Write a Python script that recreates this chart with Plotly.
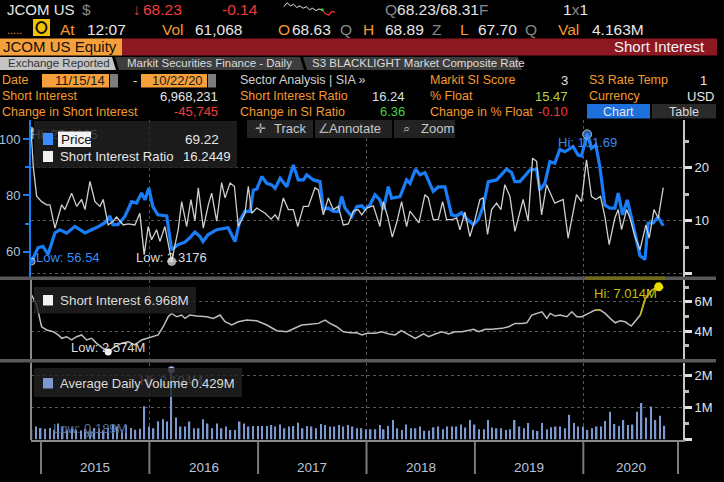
import plotly.graph_objects as go
from datetime import datetime
import calendar

W, H = 724, 482
FONT = "Liberation Sans, Arial, sans-serif"
ORANGE = "#f39a2e"
RED = "#f23b3b"
WHITE = "#e6e6e6"
GRAY = "#8a8a8a"
BLUE = "#1a7df8"

# ---------------- data ----------------
price_t = [2014.914, 2014.972, 2015.018, 2015.065, 2015.099, 2015.129, 2015.175, 2015.237, 2015.313, 2015.359,
           2015.406, 2015.467, 2015.525, 2015.590, 2015.636, 2015.664, 2015.710, 2015.774, 2015.836, 2015.882,
           2015.928, 2015.959, 2015.995, 2016.032, 2016.078, 2016.159, 2016.205, 2016.263, 2016.327, 2016.373,
           2016.419, 2016.465, 2016.493, 2016.539, 2016.619, 2016.724, 2016.788, 2016.834, 2016.880, 2016.926,
           2016.957, 2016.988, 2017.034, 2017.080, 2017.126, 2017.157, 2017.203, 2017.265, 2017.325, 2017.371,
           2017.418, 2017.449, 2017.510, 2017.571, 2017.602, 2017.648, 2017.694, 2017.740, 2017.771, 2017.802,
           2017.864, 2017.910, 2017.956, 2017.986, 2018.032, 2018.078, 2018.124, 2018.155, 2018.201, 2018.232,
           2018.309, 2018.370, 2018.401, 2018.453, 2018.493, 2018.539, 2018.616, 2018.662, 2018.724, 2018.785,
           2018.831, 2018.877, 2018.908, 2018.984, 2019.030, 2019.076, 2019.123, 2019.200, 2019.246, 2019.292,
           2019.338, 2019.369, 2019.415, 2019.507, 2019.569, 2019.599, 2019.645, 2019.691, 2019.737, 2019.783,
           2019.829, 2019.906, 2019.952, 2019.983, 2020.035, 2020.075, 2020.115, 2020.152, 2020.198, 2020.244,
           2020.290, 2020.321, 2020.361, 2020.404, 2020.444, 2020.490, 2020.521, 2020.567, 2020.597, 2020.643,
           2020.689, 2020.735]
price_v = [56.54, 61.4, 61.9, 59.0, 63.1, 66.7, 67.8, 66.6, 69.0, 67.8,
           66.7, 67.8, 68.8, 70.3, 72.7, 69.6, 69.6, 72.5, 77.8, 77.3,
           80.9, 78.4, 82.6, 76.0, 73.1, 72.7, 60.7, 62.5, 63.4, 65.0,
           67.0, 65.4, 63.6, 66.0, 67.8, 68.5, 63.6, 71.3, 74.3, 74.3,
           81.9, 82.2, 86.7, 84.3, 83.7, 82.5, 86.1, 83.1, 90.8, 85.5,
           85.5, 87.3, 85.5, 84.9, 74.9, 75.5, 74.3, 74.3, 79.6, 75.5,
           72.5, 76.0, 76.3, 75.1, 76.6, 80.2, 78.4, 74.9, 83.1, 79.0,
           79.6, 85.5, 84.3, 89.3, 87.3, 88.1, 81.4, 83.0, 83.0, 73.1,
           72.7, 73.9, 72.3, 69.6, 71.3, 76.0, 84.9, 85.5, 87.3, 89.3,
           88.1, 84.9, 84.9, 89.0, 89.3, 81.9, 84.3, 92.0, 91.4, 96.3,
           95.5, 97.3, 94.3, 94.0, 101.69, 96.7, 97.9, 90.2, 76.6, 75.5,
           75.5, 80.8, 73.1, 78.4, 71.9, 63.1, 58.6, 57.2, 70.2, 70.2,
           72.3, 69.22]

sir_t = [2014.908, 2014.929, 2014.960, 2015.006, 2015.053, 2015.083, 2015.129, 2015.159, 2015.191, 2015.221,
         2015.283, 2015.329, 2015.375, 2015.406, 2015.452, 2015.498, 2015.544, 2015.574, 2015.620, 2015.666,
         2015.698, 2015.759, 2015.805, 2015.866, 2015.912, 2015.952, 2015.989, 2016.020, 2016.066, 2016.097,
         2016.143, 2016.205, 2016.265, 2016.297, 2016.343, 2016.382, 2016.419, 2016.450, 2016.496, 2016.542,
         2016.573, 2016.619, 2016.665, 2016.696, 2016.742, 2016.782, 2016.818, 2016.880, 2016.910, 2016.942,
         2016.988, 2017.065, 2017.120, 2017.157, 2017.187, 2017.233, 2017.279, 2017.325, 2017.366, 2017.418,
         2017.464, 2017.525, 2017.556, 2017.602, 2017.648, 2017.694, 2017.740, 2017.786, 2017.832, 2017.878,
         2017.924, 2017.956, 2018.002, 2018.063, 2018.124, 2018.155, 2018.195, 2018.238, 2018.278, 2018.324,
         2018.370, 2018.401, 2018.447, 2018.484, 2018.539, 2018.570, 2018.616, 2018.662, 2018.702, 2018.739,
         2018.785, 2018.831, 2018.862, 2018.908, 2018.954, 2019.000, 2019.046, 2019.076, 2019.117, 2019.154,
         2019.200, 2019.240, 2019.276, 2019.323, 2019.369, 2019.445, 2019.491, 2019.532, 2019.569, 2019.615,
         2019.661, 2019.737, 2019.814, 2019.860, 2019.937, 2019.983, 2020.029, 2020.075, 2020.115, 2020.158,
         2020.198, 2020.238, 2020.290, 2020.321, 2020.352, 2020.398, 2020.429, 2020.475, 2020.521, 2020.576,
         2020.606, 2020.650, 2020.689, 2020.735]
sir_v = [27.1835, 20.2, 14.6, 13.6, 13.0, 13.0, 8.6, 10.8, 13.0, 12.1,
         15.2, 12.7, 14.0, 12.1, 17.4, 13.6, 12.7, 14.0, 9.2, 9.9,
         10.7, 9.2, 9.4, 9.2, 11.4, 3.6, 8.9, 6.4, 8.3, 6.1,
         8.9, 2.3176, 8.3, 13.6, 8.9, 14.0, 10.0, 16.2, 8.6, 13.0,
         15.2, 9.9, 17.2, 14.3, 17.1, 16.5, 8.9, 11.4, 16.5, 11.4,
         12.4, 11.4, 10.3, 11.1, 10.2, 14.3, 12.1, 12.1, 8.9, 12.7,
         12.7, 16.2, 15.8, 11.1, 14.3, 12.1, 12.7, 9.2, 9.4, 11.8,
         12.1, 11.1, 12.4, 12.8, 8.9, 13.6, 10.8, 6.9, 9.6, 13.6,
         8.9, 11.8, 10.5, 9.6, 14.9, 14.3, 10.2, 10.2, 13.6, 10.2,
         10.2, 10.5, 8.3, 11.6, 7.0, 10.2, 14.0, 14.3, 7.4, 12.1,
         13.3, 12.1, 16.8, 14.6, 8.0, 14.0, 9.9, 21.8, 21.2, 11.1,
         16.8, 13.3, 14.0, 6.7, 14.9, 13.6, 21.5, 14.6, 14.0, 14.6,
         10.8, 5.5, 10.5, 12.1, 8.3, 12.1, 10.5, 7.0, 4.5, 9.2,
         6.7, 12.1, 10.5, 16.2449]

si_t = [2014.914, 2014.960, 2015.006, 2015.053, 2015.113, 2015.159, 2015.191, 2015.237, 2015.283, 2015.329,
        2015.375, 2015.421, 2015.467, 2015.513, 2015.574, 2015.620, 2015.682, 2015.744, 2015.805, 2015.866,
        2015.928, 2015.974, 2016.020, 2016.081, 2016.127, 2016.173, 2016.205, 2016.251, 2016.297, 2016.327,
        2016.373, 2016.435, 2016.527, 2016.588, 2016.650, 2016.696, 2016.758, 2016.818, 2016.896, 2016.988,
        2017.080, 2017.172, 2017.265, 2017.341, 2017.403, 2017.479, 2017.556, 2017.618, 2017.664, 2017.725,
        2017.786, 2017.848, 2017.910, 2017.959, 2018.005, 2018.081, 2018.143, 2018.205, 2018.265, 2018.321,
        2018.373, 2018.450, 2018.527, 2018.573, 2018.634, 2018.696, 2018.758, 2018.818, 2018.880, 2018.942,
        2018.988, 2019.034, 2019.095, 2019.157, 2019.249, 2019.311, 2019.371, 2019.433, 2019.479, 2019.525,
        2019.571, 2019.618, 2019.664, 2019.694, 2019.740, 2019.786, 2019.848, 2019.894, 2019.940, 2019.986,
        2020.048, 2020.109, 2020.155, 2020.201, 2020.247, 2020.293, 2020.339, 2020.385, 2020.441, 2020.524,
        2020.570, 2020.631, 2020.693, 2020.735]
si_v = [6.45, 5.77, 4.29, 4.07, 3.95, 3.73, 3.50, 3.61, 3.39, 3.61,
        3.73, 3.39, 3.50, 3.16, 2.82, 2.574, 2.93, 3.16, 3.27, 3.05,
        3.39, 3.50, 3.61, 3.73, 4.29, 4.97, 5.20, 4.97, 5.09, 4.86,
        5.09, 5.02, 4.97, 4.86, 5.09, 4.63, 4.41, 4.63, 4.75, 4.70,
        4.41, 4.02, 3.95, 4.18, 4.41, 4.46, 4.52, 4.75, 4.52, 4.29,
        3.95, 3.88, 3.88, 3.73, 3.84, 3.84, 3.95, 3.80, 3.73, 4.02,
        3.80, 3.50, 3.80, 3.61, 3.80, 3.95, 3.80, 3.95, 3.95, 4.07,
        4.12, 3.95, 4.12, 4.12, 4.18, 4.29, 4.52, 4.52, 4.56, 5.09,
        5.20, 5.31, 4.86, 5.20, 5.02, 5.09, 4.97, 5.31, 4.97, 4.97,
        5.20, 5.43, 5.43, 5.20, 4.86, 4.56, 4.70, 4.63, 4.34, 5.09,
        6.22, 6.79, 7.014, 6.968]
si_highlight = [(2020.10, 2020.16), (2020.52, 2020.80)]

vol_v = [0.31, 0.40, 0.36, 0.33, 0.36, 0.30, 0.50, 0.40, 0.30, 0.35,
         0.30, 0.28, 0.33, 0.189, 0.36, 0.33, 0.28, 0.36, 0.45, 0.40,
         0.30, 0.45, 0.36, 0.30, 0.33,
         1.04, 0.40, 0.35, 0.57, 0.63, 0.56, 2.194, 0.69, 0.40, 0.40,
         0.56, 0.35, 0.35, 0.63, 0.50, 0.35, 0.50, 0.35, 0.40, 0.29,
         0.29, 0.56, 0.50, 0.40, 0.42, 0.42, 0.42, 0.42, 0.45, 0.40,
         0.47, 0.35, 0.40, 0.42, 0.52, 0.35, 0.42, 0.40, 0.35, 0.48,
         0.45, 0.40, 0.40, 0.45, 0.40, 0.45, 0.40, 0.35,
         0.35, 0.32, 0.32, 0.32, 0.45, 0.32, 0.42, 0.61, 0.35, 0.29,
         0.47, 0.35, 0.35, 0.40, 0.27, 0.27, 0.38, 0.40, 0.32, 0.40,
         0.40, 0.40, 0.47, 0.37, 0.61, 0.47, 0.32, 0.32, 0.61, 0.37,
         0.35, 0.35, 0.29, 0.32, 0.61, 0.40, 0.35, 0.51, 0.29, 0.26,
         0.51, 0.32, 0.38, 0.40, 0.40, 0.35, 0.77, 0.51, 0.40, 0.40,
         0.29, 0.35, 0.40, 0.40, 0.58, 0.87, 0.48, 0.42, 0.61, 0.45,
         0.47, 0.87, 1.14, 0.69, 1.03, 0.61, 0.74, 0.429]

years = [2015, 2016, 2017, 2018, 2019, 2020]
spark_main = [5.5, 8.0, 6.0, 7.0, 5.0, 6.0, 4.5, 5.5, 3.5, 4.5, 3.0, 4.0, 3.5]
spark_tail = [3.5, 1.0, 0.0, 2.5, 2.0]


# ---------------- helpers ----------------
def dy(t):
    y = int(t)
    s, e = datetime(y, 1, 1), datetime(y + 1, 1, 1)
    return s + (e - s) * (t - y)


def iso(t):
    return dy(t).strftime('%Y-%m-%d %H:%M')


def PX(x):
    return x / W


def PY(y):
    return 1 - y / H


vol_dates = ['2014-11-30']
for yy in range(2014, 2021):
    for mm in range(1, 13):
        if (yy, mm) < (2014, 12) or (yy, mm) > (2020, 9):
            continue
        vol_dates.append(f'{yy}-{mm:02d}-15')
        vol_dates.append(f'{yy}-{mm:02d}-{calendar.monthrange(yy, mm)[1]:02d}')

X0, X1 = iso(2014.908), iso(2020.917)
AXIS_END = 2020.871

shapes, ann = [], []


def rect(x0, y0, x1, y1, fill, layer='above'):
    shapes.append(dict(type='rect', xref='paper', yref='paper', x0=PX(x0), x1=PX(x1),
                       y0=PY(y1), y1=PY(y0), fillcolor=fill, line=dict(width=0), layer=layer))


def poly(pts, fill):
    path = 'M' + ' L'.join(f'{PX(x):.5f},{PY(y):.5f}' for x, y in pts) + ' Z'
    shapes.append(dict(type='path', xref='paper', yref='paper', path=path,
                       fillcolor=fill, line=dict(width=0), layer='above'))


def vline(x, y0, y1, color, width):
    shapes.append(dict(type='line', xref='paper', yref='paper', x0=PX(x), x1=PX(x),
                       y0=PY(y0), y1=PY(y1), line=dict(color=color, width=width), layer='above'))


def T(x, y, s, color=WHITE, size=12.5, anchor='left'):
    ann.append(dict(xref='paper', yref='paper', x=PX(x), y=PY(y), text=s, showarrow=False,
                    xanchor=anchor, yanchor='middle', font=dict(family=FONT, size=size, color=color)))


# ---------------- header ----------------
T(5, 9.5, 'JCOM US', WHITE, 15)
T(80, 9.5, '$', GRAY, 15.5)
T(131, 9.5, '↓', RED, 15.5)
T(141, 9.5, '68.23', RED, 15.5)
T(220, 9.5, '-0.14', RED, 15.5)
T(383, 9.5, "<span style='color:#8a8a8a'>Q</span>68.23/68.31<span style='color:#8a8a8a'>F</span>", WHITE, 15.5)
T(561, 9.5, "1<span style='color:#8a8a8a'>x</span>1", WHITE, 15.5)

T(5, 30, '.....', ORANGE, 11)
rect(33, 19, 50, 36, '#f2c200')
shapes.append(dict(type='circle', xref='paper', yref='paper', x0=PX(36.5), x1=PX(46.5), y0=PY(33), y1=PY(22),
                   line=dict(color='#111', width=2), layer='above'))
T(58, 29, 'At', ORANGE, 15.5)
T(85, 29, '12:07', WHITE, 15.5)
T(160, 29, 'Vol', ORANGE, 15.5)
T(193, 29, '61,068', WHITE, 15.5)
T(276, 29, 'O', ORANGE, 15.5)
T(290, 29, '68.63', WHITE, 15.5)
T(338, 29, 'Q', GRAY, 15.5)
T(361, 29, 'H', ORANGE, 15.5)
T(383, 29, '68.89', WHITE, 15.5)
T(430, 29, 'Z', GRAY, 15.5)
T(458, 29, 'L', ORANGE, 15.5)
T(476, 29, '67.70', WHITE, 15.5)
T(523, 29, 'Q', GRAY, 15.5)
T(556, 29, 'Val', ORANGE, 15.5)
T(590, 29, '4.163M', WHITE, 15.5)

rect(0, 38.5, 122, 55.5, '#f5a03a')
rect(122, 38.5, 717, 55.5, '#8d1822')
T(1, 47, 'JCOM US Equity', '#111111', 15)
T(707, 47, 'Short Interest', '#f2f2f2', 15, 'right')

poly([(0, 57), (112, 57), (116, 70), (0, 70)], '#c4c4c4')
poly([(115, 57), (300, 57), (304, 70), (119, 70)], '#3d3d3d')
poly([(303, 57), (518, 57), (522, 70), (307, 70)], '#3d3d3d')
T(6, 63.5, 'Exchange Reported', '#333333', 11.5)
T(125, 63.5, 'Markit Securities Finance - Daily', '#dcdcdc', 11.5)
T(310, 63.5, 'S3 BLACKLIGHT Market Composite Rate', '#dcdcdc', 11.5)

r5, r6, r7 = 80.5, 96.5, 111.5
T(0, r5, 'Date', ORANGE)
rect(42, 74, 109, 87.5, '#f5a03a')
T(107, r5, '11/15/14', '#1a1a1a', 13, 'right')
rect(110, 74, 118, 87.5, '#7d7d7d')
T(131, r5, '-', WHITE, 13)
rect(141, 74, 207, 87.5, '#f5a03a')
T(205, r5, '10/22/20', '#1a1a1a', 13, 'right')
rect(208, 74, 216, 87.5, '#7d7d7d')
T(238, r5, 'Sector Analysis | SIA »', '#d0d0d0')
T(428, r5, 'Markit SI Score', ORANGE)
T(570, r5, '3', WHITE, 13, 'right')
T(587, r5, 'S3 Rate Temp', ORANGE)
T(709, r5, '1', WHITE, 13, 'right')

T(0, r6, 'Short Interest', ORANGE)
T(220, r6, '6,968,231', WHITE, 13, 'right')
T(238, r6, 'Short Interest Ratio', ORANGE)
T(407, r6, '16.24', '#d6e2ef', 13, 'right')
T(428, r6, '% Float', ORANGE)
T(570, r6, '15.47', '#b9d13c', 13, 'right')
T(587, r6, 'Currency', ORANGE)
T(716, r6, 'USD', WHITE, 13, 'right')

T(0, r7, 'Change in Short Interest', ORANGE)
T(220, r7, '-45,745', RED, 13, 'right')
T(238, r7, 'Change in SI Ratio', ORANGE)
T(407, r7, '6.36', '#47cf47', 13, 'right')
T(428, r7, 'Change in % Float', ORANGE)
T(570, r7, '-0.10', RED, 13, 'right')
rect(587, 104, 650, 118.5, '#1d6fdc')
T(618.5, r7, 'Chart', WHITE, 12.5, 'center')
rect(652, 104, 716, 118.5, '#2a2a2a')
T(684, r7, 'Table', '#dcdcdc', 12.5, 'center')

# toolbar
for x0, x1 in [(247, 313), (315, 392), (394, 455)]:
    rect(x0, 120, x1, 138, '#232323')
T(253, 129, '✛', '#b0b0b0', 13)
T(272, 129, 'Track', '#c8c8c8', 13)
T(316, 129, '∠', '#b0b0b0', 13)
T(327, 129, 'Annotate', '#c8c8c8', 13)
T(401, 129, '⌕', '#b0b0b0', 13)
T(419, 129, 'Zoom', '#c8c8c8', 13)

# separators
rect(0, 276.5, 716, 280, '#595959')
rect(585, 276.5, 665, 280, '#6e6a1a')
rect(0, 359, 716, 362.5, '#595959')
vline(31, 280, 359, '#8a8a8a', 2)
vline(31, 362.5, 440, '#8a8a8a', 2)

# legend boxes
LEG = 'rgba(34,34,34,0.80)'
rect(34, 121, 237, 168, LEG)
rect(43, 133, 53, 145, '#3b8cff')
rect(58, 131.5, 91, 147, '#f2f2f2')
T(59, 139, 'Price', '#111111', 13.5)
T(183, 139, f'{price_v[-1]:.2f}', WHITE, 13.5)
rect(43, 151, 53, 162, '#f2f2f2')
T(58, 156.5, 'Short Interest Ratio', WHITE, 13.2)
T(181, 156.5, f'{sir_v[-1]:.4f}', WHITE, 13.2)

rect(34, 287, 196, 313.5, LEG)
rect(43, 295, 53, 305.5, '#f2f2f2')
T(58, 300.5, f'Short Interest {si_v[-1]:.3f}M', '#dcdcdc', 13.4)

rect(34, 368, 242, 397, LEG)
rect(43, 378, 53, 388.5, '#7d9ad0')
T(58, 383.5, f'Average Daily Volume {vol_v[-1]:.3f}M', '#dcdcdc', 13)

# x-axis year ticks and labels
for yv in years + [AXIS_END]:
    shapes.append(dict(type='line', xref='x3', yref='paper', x0=iso(yv), x1=iso(yv),
                       y0=PY(441), y1=PY(474), line=dict(color='#7a7a7a', width=2), layer='above'))
for yv in years:
    mid = yv + 0.5 if yv < 2020 else (2020 + AXIS_END) / 2
    ann.append(dict(xref='x3', yref='paper', x=iso(mid), y=PY(467), text=str(yv), showarrow=False,
                    xanchor='center', yanchor='middle', font=dict(family=FONT, size=13.5, color='#b8c4da')))

# ---------------- traces ----------------
fig = go.Figure()
pt = [iso(t) for t in price_t]
st = [iso(t) for t in sir_t]
it = [iso(t) for t in si_t]

fig.add_trace(go.Scatter(x=st, y=sir_v, mode='lines', line=dict(color='#cfcfcf', width=1.3),
                         xaxis='x', yaxis='y2'))
fig.add_trace(go.Scatter(x=pt, y=price_v, mode='lines', line=dict(color=BLUE, width=3.2),
                         xaxis='x', yaxis='y'))
ih = price_v.index(max(price_v))
il = price_v.index(min(price_v))
fig.add_trace(go.Scatter(x=[pt[ih], pt[il]], y=[price_v[ih], price_v[il]], mode='markers',
                         marker=dict(color='#3b8cff', size=[9, 7]), xaxis='x', yaxis='y'))
sh = sir_v.index(max(sir_v))
sl = sir_v.index(min(sir_v))
fig.add_trace(go.Scatter(x=[st[sl], st[sh]], y=[sir_v[sl], sir_v[sh]], mode='markers',
                         marker=dict(color='#f4f4f4', size=[8, 5]), xaxis='x', yaxis='y2'))
fig.add_trace(go.Scatter(x=[st[sh]], y=[sir_v[sh]], mode='text', text=[f'Hi: {sir_v[sh]:.4f}'],
                         textposition='bottom right', textfont=dict(family=FONT, size=13, color='#bdbdbd'),
                         xaxis='x', yaxis='y2'))

fig.add_trace(go.Scatter(x=it, y=si_v, mode='lines', line=dict(color='#bdbdbd', width=1.5),
                         xaxis='x2', yaxis='y3'))
si_hl = [v if any(a <= t <= b for a, b in si_highlight) else None for t, v in zip(si_t, si_v)]
fig.add_trace(go.Scatter(x=it, y=si_hl, mode='lines', line=dict(color='#bdb200', width=1.6),
                         connectgaps=False, xaxis='x2', yaxis='y3'))
kh = si_v.index(max(si_v))
kl = si_v.index(min(si_v))
fig.add_trace(go.Scatter(x=[it[kl]], y=[si_v[kl]], mode='markers', marker=dict(color='#f4f4f4', size=7),
                         xaxis='x2', yaxis='y3'))
fig.add_trace(go.Scatter(x=[it[kh]], y=[si_v[kh]], mode='markers', marker=dict(color='#e8dc00', size=9),
                         xaxis='x2', yaxis='y3'))

fig.add_trace(go.Bar(x=vol_dates, y=vol_v, marker=dict(color='#7b98cf', line=dict(width=0)),
                     width=5 * 86400000, xaxis='x3', yaxis='y4'))
vh = vol_v.index(max(vol_v))
vl = vol_v.index(min(vol_v))
fig.add_trace(go.Scatter(x=[vol_dates[vh]], y=[vol_v[vh]], mode='markers+text', text=[f'Hi: {vol_v[vh]:.3f}M'],
                         textposition='bottom center', textfont=dict(family=FONT, size=13, color='#a8badb'),
                         marker=dict(color='#9fb4dc', size=7), xaxis='x3', yaxis='y4'))
fig.add_trace(go.Scatter(x=[vol_dates[vl]], y=[vol_v[vl]], mode='markers',
                         marker=dict(color='#56709c', size=8, symbol='star'), xaxis='x3', yaxis='y4'))

# sparkline
fig.add_trace(go.Scatter(x=list(range(len(spark_main))), y=spark_main, mode='lines',
                         line=dict(color='#e8e8e8', width=1), xaxis='x5', yaxis='y5'))
fig.add_trace(go.Scatter(x=list(range(len(spark_main) - 1, len(spark_main) - 1 + len(spark_tail))), y=spark_tail,
                         mode='lines', line=dict(color='#f03030', width=1.2), xaxis='x5', yaxis='y5'))
fig.add_trace(go.Scatter(x=[len(spark_main) - 1], y=[spark_main[-1]], mode='markers',
                         marker=dict(color='#30d030', size=3), xaxis='x5', yaxis='y5'))

# data labels
lab = lambda **k: ann.append(dict(showarrow=False, yanchor='middle', **k))
lab(xref='x', yref='y', x=pt[ih], y=price_v[ih], text=f'Hi: {price_v[ih]:.2f}', xanchor='center', yshift=-8,
    font=dict(family=FONT, size=13, color='#3a8df5'))
lab(xref='x', yref='y', x=pt[il], y=price_v[il], text=f'Low: {price_v[il]:.2f}', xanchor='left', xshift=2,
    yshift=3.5, font=dict(family=FONT, size=13, color='#3a8df5'))
lab(xref='x', yref='y2', x=st[sl], y=sir_v[sl], text=f'Low: {sir_v[sl]:.4f}', xanchor='center', yshift=4,
    font=dict(family=FONT, size=13, color='#dcdcdc'))
lab(xref='x2', yref='y3', x=it[kl], y=si_v[kl], text=f'Low: {si_v[kl]:.3f}M', xanchor='center', yshift=4,
    font=dict(family=FONT, size=13, color='#dcdcdc'))
lab(xref='x2', yref='y3', x=it[kh], y=si_v[kh], text=f'Hi: {si_v[kh]:.3f}M', xanchor='right', yshift=-7,
    font=dict(family=FONT, size=13, color='#c8c000'))
lab(xref='x3', yref='y4', x=vol_dates[vl], y=vol_v[vl], text=f'Low: {vol_v[vl]:.3f}M', xanchor='center', yshift=5,
    font=dict(family=FONT, size=13, color='#56709c'))

# ---------------- axes ----------------
xcommon = dict(type='date', range=[X0, X1], domain=[PX(31), PX(683)], showgrid=True, griddash='dot',
               gridcolor='#575757', gridwidth=1, tick0='2016-01-01', dtick='M24', showticklabels=False,
               ticks='', zeroline=False, fixedrange=True)
right_common = dict(side='right', ticks='outside', ticklen=7, tickwidth=3, tickcolor='#e0e0e0',
                    showline=True, linecolor='#c8c8c8', linewidth=2, showgrid=True, griddash='dot',
                    gridcolor='#575757', zeroline=False, tickfont=dict(family=FONT, size=13, color='#dfe4ec'),
                    fixedrange=True)

fig.update_layout(
    width=W, height=H, autosize=False, margin=dict(l=0, r=0, t=0, b=0),
    paper_bgcolor='black', plot_bgcolor='black', showlegend=False,
    shapes=shapes, annotations=ann,
    xaxis=dict(anchor='y', **xcommon),
    xaxis2=dict(anchor='y3', **xcommon),
    xaxis3=dict(anchor='y4', showline=True, linecolor='#8a8a8a', linewidth=2, **xcommon),
    yaxis=dict(domain=[PY(276.5), PY(120)], range=[51.19, 106.78], side='left', anchor='x',
               tickvals=[60, 80, 100], ticks='outside', ticklen=6, tickwidth=2, tickcolor=BLUE,
               showline=True, linecolor=BLUE, linewidth=2, showgrid=False, zeroline=False,
               tickfont=dict(family=FONT, size=13, color='#a9c1de'), fixedrange=True,
               minor=dict(tickvals=[70, 90], ticks='outside', ticklen=4, tickcolor=BLUE, showgrid=False)),
    yaxis2=dict(overlaying='y', anchor='x', range=[-0.53, 29.0], tickvals=[0, 10, 20], ticktext=['', '10', '20'],
                minor=dict(tickvals=[5, 15, 25], ticks='outside', ticklen=4, tickcolor='#bbbbbb', showgrid=False),
                **right_common),
    yaxis3=dict(domain=[PY(359), PY(280)], anchor='x2', range=[2.09, 7.48], tickvals=[4, 6], ticktext=['4M', '6M'],
                minor=dict(tickvals=[3, 5, 7], ticks='outside', ticklen=4, tickcolor='#bbbbbb', showgrid=False),
                **right_common),
    yaxis4=dict(domain=[PY(440), PY(362.5)], anchor='x3', range=[-0.022, 2.42], tickvals=[0, 1, 2],
                ticktext=['', '1M', '2M'],
                minor=dict(tickvals=[0.5, 1.5], ticks='outside', ticklen=4, tickcolor='#bbbbbb', showgrid=False),
                **right_common),
    xaxis5=dict(domain=[PX(283), PX(336)], anchor='y5', range=[-0.3, 16.3], visible=False, fixedrange=True),
    yaxis5=dict(domain=[PY(16), PY(2)], anchor='x5', range=[-0.5, 8.5], visible=False, fixedrange=True),
)
fig.write_html('out.html', config={'displayModeBar': False},
               post_script="document.body.style.margin='0';document.body.style.padding='0';"
                           "document.body.style.background='black';")
